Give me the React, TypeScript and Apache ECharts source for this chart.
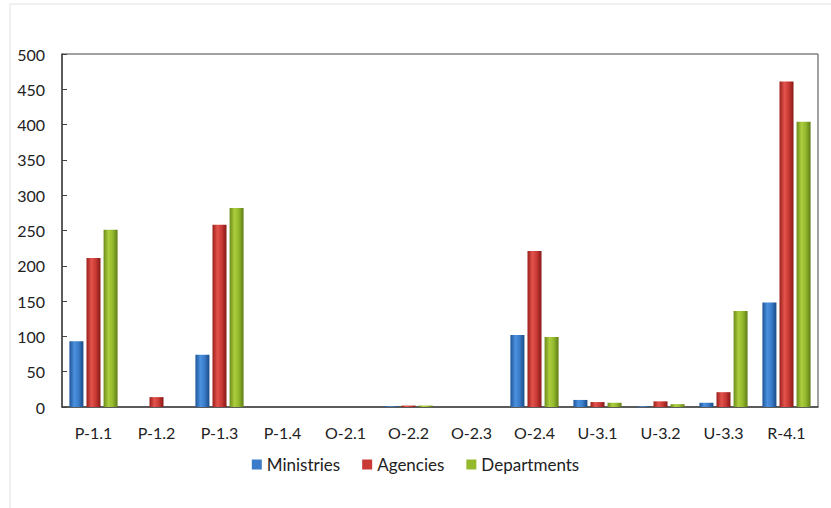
import React, { useEffect, useRef } from "react";
import * as echarts from "echarts";

const categories = ["P-1.1", "P-1.2", "P-1.3", "P-1.4", "O-2.1", "O-2.2", "O-2.3", "O-2.4", "U-3.1", "U-3.2", "U-3.3", "R-4.1"];
const ministries = [93, 0, 74, 0, 0, 1, 0, 102, 10, 1, 6, 148];
const agencies = [211, 14, 258, 0, 0, 2, 0, 221, 7, 8, 21, 461];
const departments = [251, 0, 282, 0, 0, 2, 0, 99, 6, 4, 136, 404];
const seriesNames = ["Ministries", "Agencies", "Departments"];

const grad = (c: string[]) =>
  new echarts.graphic.LinearGradient(0, 0, 1, 0, [
    { offset: 0, color: c[0] },
    { offset: 0.35, color: c[1] },
    { offset: 0.65, color: c[2] },
    { offset: 1, color: c[3] },
  ]);

const palettes = [
  ["#1d5498", "#4b91de", "#3a7cc9", "#1a4a86"],
  ["#9a1e1b", "#e2534c", "#c93a35", "#861816"],
  ["#6c8c1a", "#abcd3e", "#94b92d", "#5f7c16"],
];

export default function App() {
  const ref = useRef<HTMLDivElement>(null);
  useEffect(() => {
    const chart = echarts.init(ref.current!, undefined, { renderer: "svg" });
    const font = "Lato, 'Open Sans', sans-serif";
    const data = [ministries, agencies, departments];
    chart.setOption({
      animation: false,
      textStyle: { fontFamily: font },
      graphic: [
        {
          type: "rect",
          shape: { x: 10, y: 4, width: 840, height: 520 },
          style: { fill: "none", stroke: "#e2e2e2", lineWidth: 1 },
          silent: true,
        },
      ],
      grid: {
        left: 62,
        right: 13,
        top: 54,
        bottom: 101,
        show: true,
        borderColor: "#444",
        borderWidth: 1,
        backgroundColor: "transparent",
      },
      legend: {
        data: seriesNames.map((n, i) => ({ name: n, itemStyle: { color: palettes[i][2] } })),
        bottom: 30,
        left: "center",
        icon: "rect",
        itemWidth: 10,
        itemHeight: 10,
        itemGap: 22,
        textStyle: { fontSize: 17, color: "#222", fontFamily: font },
      },
      xAxis: {
        type: "category",
        data: categories,
        axisLine: { lineStyle: { color: "#444", width: 1.5 } },
        axisTick: { show: false },
        axisLabel: { fontSize: 16, color: "#222", margin: 17, fontFamily: font },
      },
      yAxis: {
        type: "value",
        min: 0,
        max: 500,
        interval: 50,
        axisLine: { show: true, lineStyle: { color: "#444", width: 1.5 } },
        axisTick: { show: true, inside: true, length: 5, lineStyle: { color: "#444" } },
        splitLine: { show: false },
        axisLabel: { fontSize: 16, color: "#222", margin: 17, fontFamily: font },
      },
      series: seriesNames.map((n, i) => ({
        name: n,
        type: "bar",
        data: data[i],
        barWidth: 14,
        barGap: "22%",
        itemStyle: { color: grad(palettes[i]) },
      })),
    });
    return () => chart.dispose();
  }, []);
  return (
    <div
      ref={ref}
      style={{ position: "fixed", left: 0, top: 0, width: 831, height: 508, background: "#fff" }}
    />
  );
}
